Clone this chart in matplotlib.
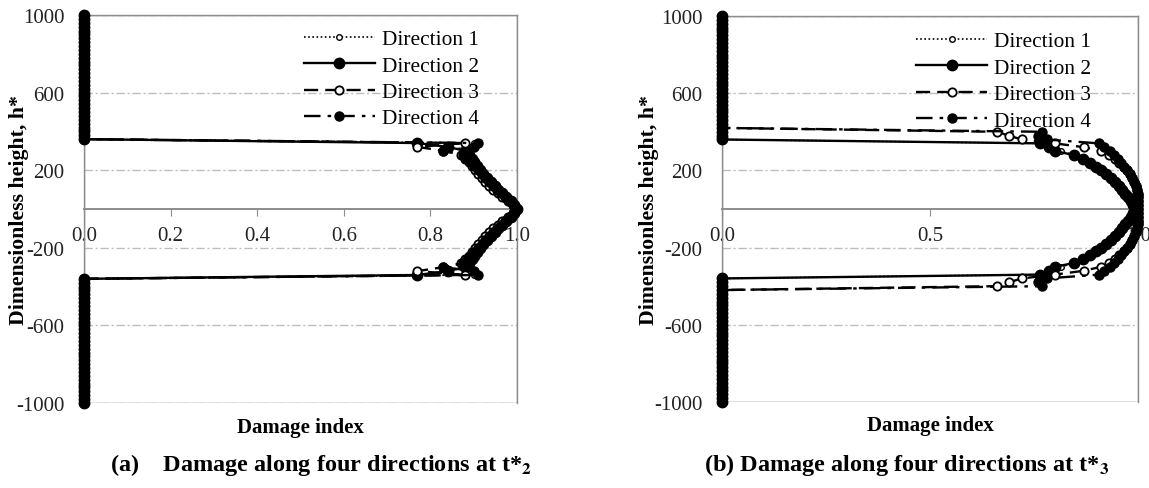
import matplotlib
matplotlib.use("Agg")
import matplotlib.pyplot as plt
from matplotlib.patches import Rectangle

plt.rcParams['font.family'] = ['Liberation Serif', 'DejaVu Serif']
plt.rcParams['mathtext.fontset'] = 'stix'

# Dimensionless height h* at which the damage index is sampled
H = [1000, 980, 960, 940, 920, 900, 880, 860, 840, 820, 800, 780, 760, 740, 720,
     700, 680, 660, 640, 620, 600, 580, 560, 540, 520, 500, 480, 460, 440, 420,
     400, 380, 360, 340, 320, 300, 280, 260, 240, 220, 200, 180, 160, 140, 120,
     100, 80, 60, 40, 20, 0, -20, -40, -60, -80, -100, -120, -140, -160, -180,
     -200, -220, -240, -260, -280, -300, -320, -340, -360, -380, -400, -420,
     -440, -460, -480, -500, -520, -540, -560, -580, -600, -620, -640, -660,
     -680, -700, -720, -740, -760, -780, -800, -820, -840, -860, -880, -900,
     -920, -940, -960, -980, -1000]

# (a) damage at t*2 : intact above h*=360 and below h*=-360
A_DIR1 = ([0.0] * 33 +
          [0.90, 0.89, 0.885, 0.885, 0.89, 0.895, 0.90, 0.905, 0.912, 0.92,
           0.93, 0.94, 0.95, 0.96, 0.97, 0.98, 0.99, 1.0,
           0.99, 0.98, 0.97, 0.96, 0.95, 0.94, 0.93, 0.92, 0.912, 0.905,
           0.90, 0.895, 0.89, 0.885, 0.885, 0.89, 0.90] +
          [0.0] * 33)
A_DIR2 = ([0.0] * 33 +
          [0.77, 0.84, 0.88, 0.89, 0.895, 0.90, 0.907, 0.915, 0.922, 0.93,
           0.94, 0.948, 0.957, 0.966, 0.975, 0.985, 0.993, 1.0,
           0.993, 0.985, 0.975, 0.966, 0.957, 0.948, 0.94, 0.93, 0.922, 0.915,
           0.907, 0.90, 0.895, 0.89, 0.88, 0.84, 0.77] +
          [0.0] * 33)
A_DIR3 = ([0.0] * 33 +
          [0.88, 0.77, 0.83, 0.87, 0.88, 0.888, 0.895, 0.903, 0.91, 0.918,
           0.926, 0.935, 0.945, 0.955, 0.966, 0.978, 0.99, 0.998,
           0.99, 0.978, 0.966, 0.955, 0.945, 0.935, 0.926, 0.918, 0.91, 0.903,
           0.895, 0.888, 0.88, 0.87, 0.83, 0.77, 0.88] +
          [0.0] * 33)
A_DIR4 = ([0.0] * 33 +
          [0.91, 0.90, 0.83, 0.875, 0.885, 0.893, 0.90, 0.91, 0.918, 0.926,
           0.935, 0.944, 0.953, 0.962, 0.972, 0.983, 0.992, 1.0,
           0.992, 0.983, 0.972, 0.962, 0.953, 0.944, 0.935, 0.926, 0.918, 0.91,
           0.90, 0.893, 0.885, 0.875, 0.83, 0.90, 0.91] +
          [0.0] * 33)

# (b) damage at t*3 : directions 3 and 4 spread further (to |h*| = 400)
B_DIR1 = ([0.0] * 33 +
          [0.76, 0.78, 0.815, 0.845, 0.865, 0.882, 0.895, 0.908, 0.92, 0.932,
           0.942, 0.951, 0.96, 0.968, 0.975, 0.982, 0.987, 0.99,
           0.987, 0.982, 0.975, 0.968, 0.96, 0.951, 0.942, 0.932, 0.92, 0.908,
           0.895, 0.882, 0.865, 0.845, 0.815, 0.78, 0.76] +
          [0.0] * 33)
B_DIR2 = ([0.0] * 33 +
          [0.765, 0.785, 0.80, 0.845, 0.868, 0.885, 0.898, 0.91, 0.922, 0.934,
           0.944, 0.953, 0.961, 0.969, 0.976, 0.983, 0.988, 0.992,
           0.988, 0.983, 0.976, 0.969, 0.961, 0.953, 0.944, 0.934, 0.922, 0.91,
           0.898, 0.885, 0.868, 0.845, 0.80, 0.785, 0.765] +
          [0.0] * 33)
B_DIR3 = ([0.0] * 30 +
          [0.66, 0.69, 0.72, 0.80, 0.87, 0.91, 0.93, 0.945, 0.955, 0.965,
           0.973, 0.98, 0.986, 0.991, 0.995, 0.998, 1.0, 1.0, 1.0, 1.0, 1.0,
           1.0, 1.0, 1.0, 1.0, 0.998, 0.995, 0.991, 0.986, 0.98, 0.973, 0.965,
           0.955, 0.945, 0.93, 0.91, 0.87, 0.80, 0.72, 0.69, 0.66] +
          [0.0] * 30)
B_DIR4 = ([0.0] * 30 +
          [0.77, 0.76, 0.78, 0.905, 0.918, 0.932, 0.943, 0.952, 0.96, 0.967,
           0.973, 0.98, 0.985, 0.99, 0.995, 0.997, 0.999, 1.0, 1.0, 1.0, 1.0,
           1.0, 1.0, 1.0, 0.999, 0.997, 0.995, 0.99, 0.985, 0.98, 0.973, 0.967,
           0.96, 0.952, 0.943, 0.932, 0.918, 0.905, 0.78, 0.76, 0.77] +
          [0.0] * 30)

LABELS = ['Direction 1', 'Direction 2', 'Direction 3', 'Direction 4']
Y_TICKS = [-1000, -600, -200, 200, 600, 1000]
A_XTICKS = [0.0, 0.2, 0.4, 0.6, 0.8, 1.0]
B_XTICKS = [0.0, 0.5, 1.0]
CAPTION_A = r'(a)    Damage along four directions at t*$_\mathbf{2}$'
CAPTION_B = r'(b) Damage along four directions at t*$_\mathbf{3}$'

STYLES = [
    dict(ls=(0, (1, 1.5)), lw=1.2, marker='o', ms=4, mfc='white', mec='black', mew=1.0),
    dict(ls='-', lw=1.7, marker='o', ms=7.5, mfc='black', mec='black'),
    dict(ls=(0, (6, 3)), lw=1.7, marker='o', ms=6, mfc='white', mec='black', mew=1.3),
    dict(ls=(0, (7, 3, 1.5, 3)), lw=1.7, marker='o', ms=6.5, mfc='black', mec='black'),
]

FRAME = '#8c8c8c'
GRID = '#bdbdbd'

fig = plt.figure(figsize=(11.49, 4.89), dpi=100)


def draw_panel(rect, series, xticks, legend_anchor):
    ax = fig.add_axes(rect)
    for d, lab, st in zip(series, LABELS, STYLES):
        ax.plot(d, H, color='black', label=lab, zorder=4, clip_on=False, **st)
    ax.set_xlim(0, 1.0)
    ax.set_ylim(-1000, 1000)
    ax.set_yticks(Y_TICKS)
    ax.set_yticklabels([str(v) for v in Y_TICKS])
    ax.set_xticks(xticks)
    ax.set_xticklabels(['%.1f' % v for v in xticks])
    for y in Y_TICKS:
        ax.axhline(y, color=GRID, lw=1.0, ls=(0, (6, 2, 1.5, 2)), zorder=1)
    ax.spines['bottom'].set_position(('data', 0))
    for s in ax.spines.values():
        s.set_color(FRAME)
        s.set_linewidth(1.0)
    ax.spines['bottom'].set_linewidth(1.4)
    ax.add_patch(Rectangle((0, 0), 1, 1, transform=ax.transAxes, fill=False,
                           ec=FRAME, lw=1.0, zorder=1))
    ax.tick_params(axis='y', length=0, pad=14, labelsize=15, colors='#222222')
    ax.tick_params(axis='x', direction='out', length=5, width=0.8, color=FRAME,
                   pad=7, labelsize=15, labelcolor='#222222')
    ax.set_xlabel('Damage index', fontsize=15, fontweight='bold', labelpad=0)
    ax.xaxis.set_label_coords(0.5, -0.035)
    ax.set_ylabel('Dimensionless height, h*', fontsize=15.7, fontweight='bold')
    ax.legend(loc='upper right', bbox_to_anchor=legend_anchor, frameon=False,
              fontsize=15.4, handlelength=3.3, handletextpad=0.33,
              labelspacing=0.3, borderpad=0, borderaxespad=0)
    return ax


ax_a = draw_panel([0.0731, 0.1738, 0.3769, 0.7935], [A_DIR1, A_DIR2, A_DIR3, A_DIR4],
                  A_XTICKS, (0.912, 0.963))
ax_a.yaxis.set_label_coords(-0.127, 0.5)
ax_b = draw_panel([0.6284, 0.1759, 0.3621, 0.7894], [B_DIR1, B_DIR2, B_DIR3, B_DIR4],
                  B_XTICKS, (0.887, 0.960))
ax_b.yaxis.set_label_coords(-0.151, 0.5)

fig.text(110 / 1149, 1 - 465 / 489, CAPTION_A, fontsize=17.5, fontweight='bold',
         ha='left', va='center')
fig.text(704 / 1149, 1 - 465 / 489, CAPTION_B, fontsize=17.5, fontweight='bold',
         ha='left', va='center')

fig.savefig('out.png', dpi=100)
